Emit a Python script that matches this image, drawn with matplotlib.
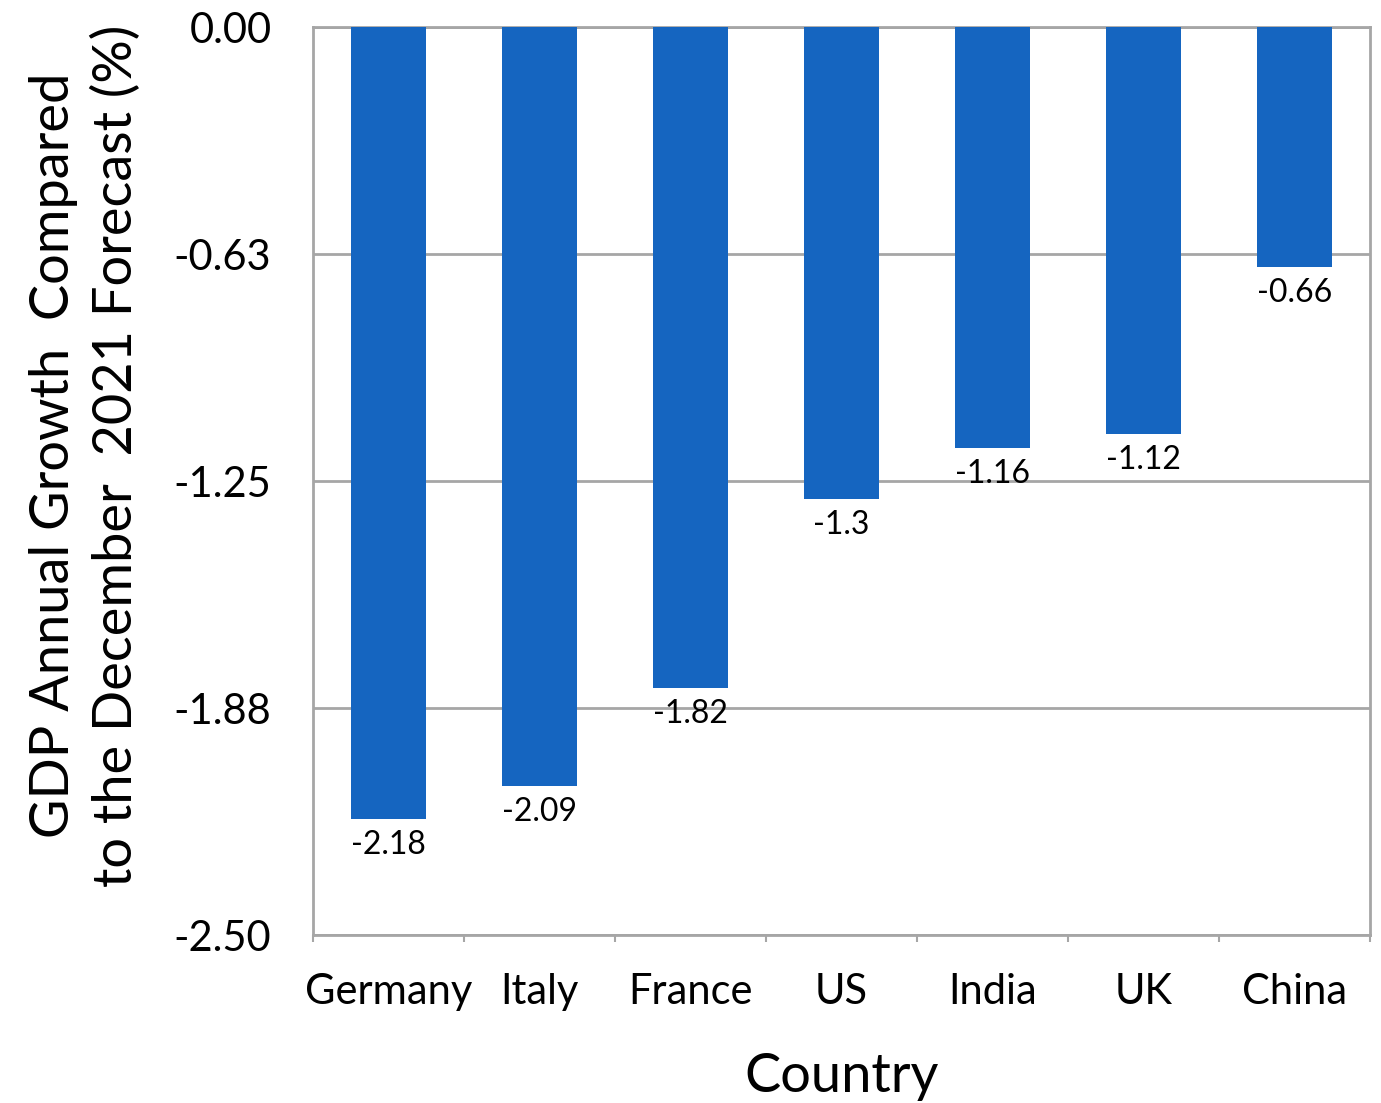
import matplotlib.pyplot as plt
import numpy as np

countries = ["Germany", "Italy", "France", "US", "India", "UK", "China"]
growth_diff = [-2.18, -2.09, -1.82, -1.3, -1.16, -1.12, -0.66]
y_ticks = [0.0, -0.625, -1.25, -1.875, -2.5]
y_tick_labels = ["0.00", "-0.63", "-1.25", "-1.88", "-2.50"]

plt.rcParams["font.family"] = ["Lato", "DejaVu Sans"]

bar_color = "#1565c0"
grey = "#a6a6a6"

fig = plt.figure(figsize=(13.81, 11.03), dpi=100)
ax = fig.add_axes([0.2267, 0.1523, 0.7653, 0.8232])

x = np.arange(len(countries))
ax.bar(x, growth_diff, width=0.5, color=bar_color, zorder=3)

for xi, v in zip(x, growth_diff):
    ax.annotate(f"{v:g}", (xi, v), xytext=(0, -8), textcoords="offset points",
                ha="center", va="top", fontsize=23, zorder=4)

ax.set_xlim(-0.5, len(countries) - 0.5)
ax.set_ylim(-2.5, 0)
ax.set_yticks(y_ticks)
ax.set_yticklabels(y_tick_labels)
ax.set_xticks(x)
ax.set_xticklabels(countries)
ax.set_xticks(np.arange(-0.5, len(countries)), minor=True)

ax.tick_params(axis="y", length=0, pad=30, labelsize=30)
ax.tick_params(axis="x", which="major", length=0, pad=27, labelsize=30)
ax.tick_params(axis="x", which="minor", length=5, width=1.5, color=grey)

ax.grid(axis="y", color=grey, linewidth=2, zorder=0)
for s in ax.spines.values():
    s.set_color(grey)
    s.set_linewidth(2)

ax.set_ylabel("GDP Annual Growth  Compared\nto the December  2021 Forecast (%)",
              fontsize=39, linespacing=1.3)
ax.yaxis.set_label_coords(-0.163, 0.528)
ax.set_xlabel("Country", fontsize=39, labelpad=30)

fig.savefig("out.png", dpi=100)
